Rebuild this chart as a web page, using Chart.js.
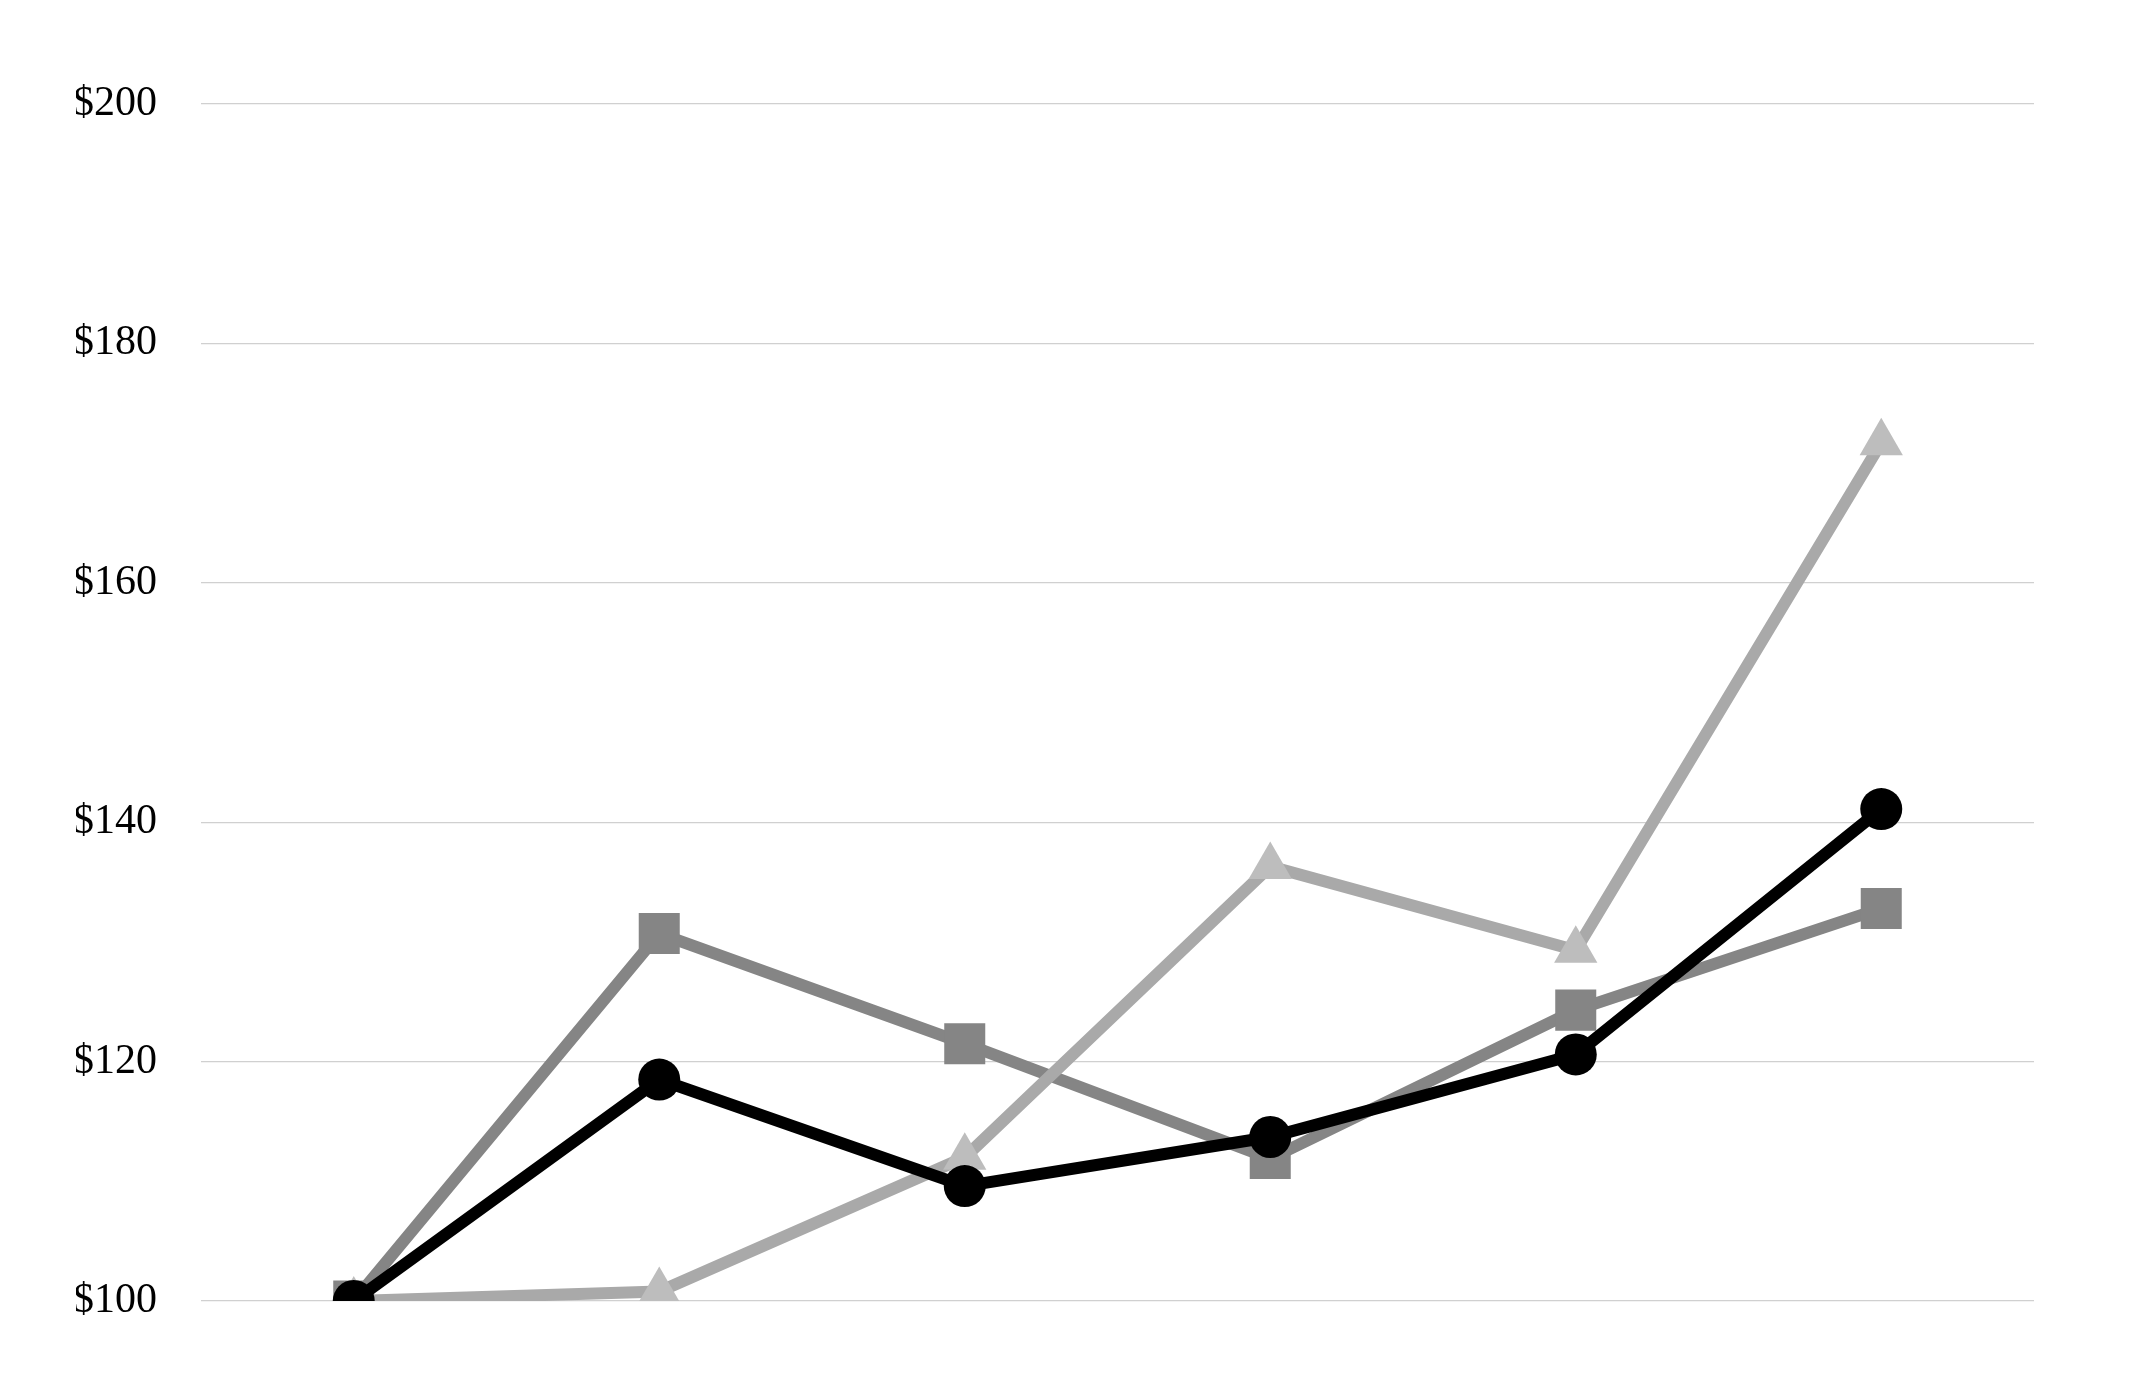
<!DOCTYPE html>
<html>
<head>
<meta charset="utf-8">
<script src="https://cdn.jsdelivr.net/npm/chart.js@4/dist/chart.umd.min.js"></script>
<style>
html,body{margin:0;padding:0;background:#fff;}
#wrap{width:2137px;height:1383px;}
</style>
</head>
<body>
<div id="wrap"><canvas id="c" width="2137" height="1383"></canvas></div>
<script>
const categories = ['P0', 'P1', 'P2', 'P3', 'P4', 'P5'];
const seriesCircle = [100, 118.5, 109.6, 113.7, 120.6, 141.1];
const seriesTriangle = [100, 100.8, 112.0, 136.3, 129.3, 171.7];
const seriesSquare = [100, 130.7, 121.5, 111.9, 124.3, 132.8];
const yTicks = [100, 120, 140, 160, 180, 200];

new Chart(document.getElementById('c'), {
  type: 'line',
  data: {
    labels: categories,
    datasets: [
      {
        data: seriesCircle,
        borderColor: '#000000',
        backgroundColor: '#000000',
        borderWidth: 12,
        pointStyle: 'circle',
        pointRadius: 21,
        pointBorderWidth: 0,
        pointBackgroundColor: '#000000',
        tension: 0
      },
      {
        data: seriesTriangle,
        borderColor: '#a9a9a9',
        backgroundColor: '#bdbdbd',
        borderWidth: 12,
        pointStyle: 'triangle',
        pointRadius: 25,
        pointBorderWidth: 0,
        pointBackgroundColor: '#bdbdbd',
        tension: 0
      },
      {
        data: seriesSquare,
        borderColor: '#858585',
        backgroundColor: '#858585',
        borderWidth: 12,
        pointStyle: 'rect',
        pointRadius: 29,
        pointBorderWidth: 0,
        pointBackgroundColor: '#858585',
        tension: 0
      }
    ]
  },
  options: {
    responsive: false,
    devicePixelRatio: 1,
    animation: false,
    layout: { padding: { left: 76, right: 103, top: 104, bottom: 82 } },
    plugins: { legend: { display: false }, tooltip: { enabled: false } },
    scales: {
      x: { display: false, offset: true },
      y: {
        min: 100,
        max: 200,
        afterBuildTicks: (s) => { s.ticks = yTicks.map(v => ({ value: v })); },
        afterFit: (s) => { s.width = 125; },
        border: { display: false },
        grid: { color: '#d0d0d0', lineWidth: 1.3, drawTicks: false },
        ticks: {
          padding: 44,
          color: '#000000',
          font: { family: 'Liberation Serif', size: 42 },
          callback: (v) => '$' + v
        }
      }
    }
  }
});
</script>
</body>
</html>
